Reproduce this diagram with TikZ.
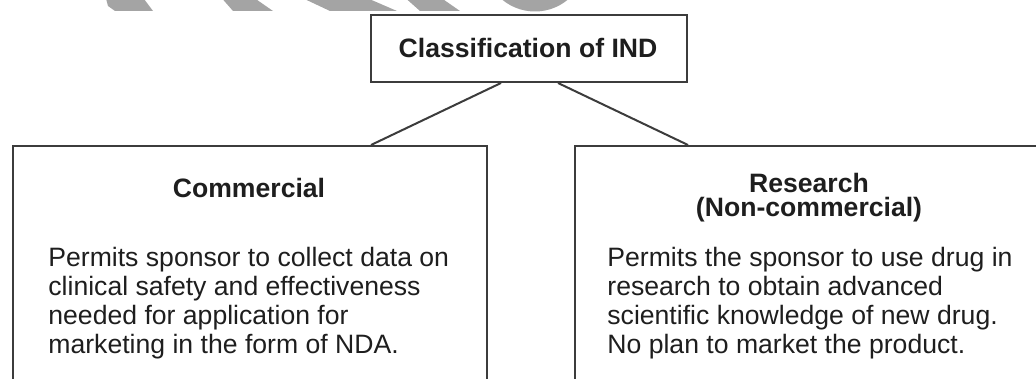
\documentclass[tikz,border=0pt]{standalone}
\usepackage{fontspec}
\setmainfont{Liberation Sans}
\definecolor{ink}{HTML}{1E1E1E}
\definecolor{rule}{HTML}{3C3C3C}
\definecolor{wmark}{HTML}{A4A4A4}
\begin{document}
\begin{tikzpicture}[x=0.5pt,y=-0.5pt,
  panel/.style={draw=rule,line width=1pt,inner sep=0pt,anchor=north west},
  head/.style={font=\fontsize{13.3pt}{12pt}\selectfont\bfseries,text=ink,inner sep=0pt,align=center,anchor=base},
  body/.style={font=\fontsize{13.3pt}{14.35pt}\selectfont,text=ink,inner sep=0pt,align=left,anchor=base west},
  link/.style={draw=rule,line width=1pt}]
\useasboundingbox (0,0) rectangle (1036,379);
\clip (0,0) rectangle (1036,379);

% grey band of shapes along the top edge
\fill[wmark] (105,-5) -- (141,-5) -- (153,11) -- (115,11) -- (108,6) -- cycle;
\fill[wmark] (219,-5) -- (250,-5) -- (273,11) -- (233,11) -- cycle;
\fill[wmark] (296,-5) -- (360,-5) -- (397,11) -- (330,11) -- cycle;
\fill[wmark] (402,-5) -- (437,-5) -- (460,11) -- (420,11) -- cycle;
\fill[wmark] (535,-40) circle[radius=51.5];

% frames
\node[panel,minimum width=158pt,minimum height=33.5pt] (root) at (370,14) {};
\node[panel,minimum width=237pt,minimum height=140pt] (comm) at (12,145) {};
\node[panel,minimum width=235pt,minimum height=140pt] (res) at (574,145) {};

% headings (base anchor sits on the last line)
\node[head] (roottxt) at (528,58) {Classification of IND};
\node[head] (commhead) at (249,198) {Commercial};
\node[head] (reshead) at (809,216) {Research\\(Non-commercial)};

% descriptions (base anchor sits on the last line)
\node[body] (commtxt) at (48,353) {Permits sponsor to collect data on\\
clinical safety and effectiveness\\
needed for application for\\
marketing in the form of NDA.};
\node[body] (restxt) at (607,353) {Permits the sponsor to use drug in\\
research to obtain advanced\\
scientific knowledge of new drug.\\
No plan to market the product.};

% branches
\draw[link] ([xshift=-14pt]root.south) -- ([xshift=60.5pt]comm.north);
\draw[link] ([xshift=14.5pt]root.south) -- ([xshift=-61pt]res.north);
\end{tikzpicture}
\end{document}
